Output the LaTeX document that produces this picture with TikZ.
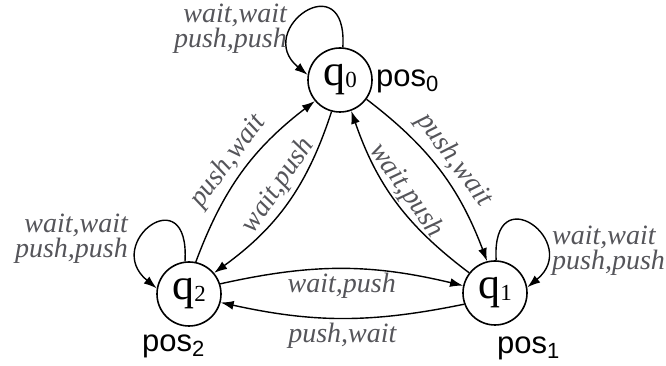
\documentclass[tikz,border=0pt]{standalone}
\usepackage{fontspec}
\setmainfont{Liberation Serif}
\newfontfamily\possans{Liberation Sans}
\usetikzlibrary{arrows.meta}
\definecolor{lblgray}{RGB}{85,85,90}
\newcommand{\qsub}[1]{\raisebox{-2pt}{\fontsize{23}{23}\selectfont #1}}
\newcommand{\psub}[1]{\raisebox{-5pt}{\fontsize{22}{22}\selectfont #1}}
\tikzset{
  st/.style={circle, draw, line width=1.6pt, minimum size=64pt, inner sep=0pt,
    font=\fontsize{44}{44}\selectfont},
  tr/.style={-{Latex[length=13pt,width=9pt]}, line width=1.4pt},
  lbl/.style={font=\fontsize{28}{23}\selectfont\itshape, text=lblgray, inner sep=2pt},
  elbl/.style={lbl, inner sep=4pt},
  posl/.style={font=\fontsize{31}{31}\selectfont\possans, inner sep=0pt, anchor=base west},
  loopl/.style={tr, to path={.. controls +(5,85) and +(-55,45) .. (\tikztotarget)}},
  loopr/.style={tr, to path={.. controls +(-5,85) and +(55,45) .. (\tikztotarget)}}
}
\begin{document}
\begin{tikzpicture}[x=1pt,y=1pt]
\useasboundingbox (0,0) rectangle (666,366);
\node[st] (q0) at (340,286) {q\qsub{0}};
\node[st] (q1) at (495,73) {q\qsub{1}};
\node[st] (q2) at (189,72) {q\qsub{2}};

\node[posl] (p0) at (376,279) {pos\psub{0}};
\node[posl] (p1) at (497,12) {pos\psub{1}};
\node[posl] (p2) at (142,14) {pos\psub{2}};

% self loops
\draw[loopl] (q0.85) to (q0.171);
\draw[loopl] (q2.97) to (q2.170);
\draw[loopr] (q1.88) to (q1.10);

\node[lbl, align=right, anchor=east] (l0) at (289,337) {wait,wait\\push,push};
\node[lbl, align=right, anchor=east] (l2) at (130,127) {wait,wait\\push,push};
\node[lbl, align=left, anchor=west] (l1) at (550,115) {wait,wait\\push,push};

% left lens
\draw[tr] (q2.78) to[bend left=16] node[elbl, pos=0.5, sloped, above] {push,wait} (q0.220);
\draw[tr] (q0.255) to[bend left=18] node[elbl, pos=0.45, sloped, above] {wait,push} (q2.40);
% right lens
\draw[tr] (q0.324) to[bend left=16] node[elbl, pos=0.5, sloped, above] {push,wait} (q1.104);
\draw[tr] (q1.142) to[bend left=17] node[lbl, inner sep=1pt, pos=0.52, sloped, above] {wait,push} (q0.290);
% bottom lens
\draw[tr] (q2.18) to[bend left=13] node[elbl, pos=0.5, below] {wait,push} (q1.167);
\draw[tr] (q1.200) to[bend left=12] node[elbl, pos=0.5, below] {push,wait} (q2.345);
\end{tikzpicture}
\end{document}
